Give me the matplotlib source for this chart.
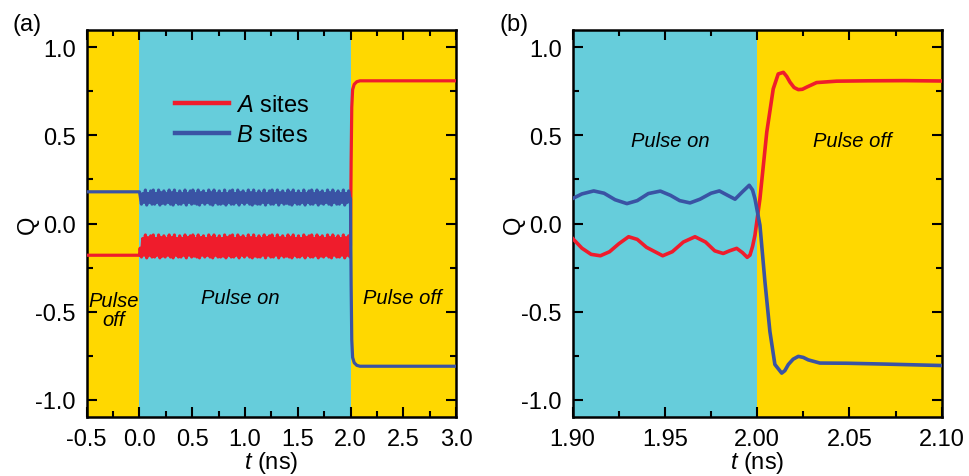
import numpy as np
import matplotlib
matplotlib.use("Agg")
import matplotlib.pyplot as plt
from matplotlib.ticker import MultipleLocator, FormatStrFormatter

plt.rcParams['font.family'] = ['Liberation Sans', 'DejaVu Sans']
plt.rcParams['mathtext.fontset'] = 'custom'
plt.rcParams['mathtext.rm'] = 'Liberation Sans'
plt.rcParams['mathtext.it'] = 'Liberation Sans:italic'

YELLOW = '#FFD800'
CYAN = '#66CDDB'
RED = '#EF1C2C'
BLUE = '#3A53A4'

# panel (a): before the pulse
t_pre = [-0.5, 0.0]
a_pre = [-0.18, -0.18]
b_pre = [0.18, 0.18]

# panel (a): pulse on, extrema of the fast oscillation (0 - 2 ns)
a_on = [-0.14, -0.19, -0.085, -0.18, -0.065, -0.195, -0.08, -0.18, -0.07, -0.19,
        -0.065, -0.19, -0.085, -0.18, -0.065, -0.195, -0.08, -0.185, -0.07, -0.19,
        -0.085, -0.18, -0.065, -0.19, -0.08, -0.195, -0.065, -0.18, -0.085, -0.19,
        -0.07, -0.19, -0.085, -0.18, -0.065, -0.195, -0.08, -0.18, -0.07, -0.19,
        -0.065, -0.185, -0.085, -0.19, -0.065, -0.195, -0.08, -0.18, -0.07, -0.19,
        -0.085, -0.18, -0.065, -0.19, -0.08, -0.195, -0.065, -0.18, -0.085, -0.19,
        -0.07, -0.19, -0.085, -0.185, -0.065, -0.195, -0.08, -0.18, -0.07, -0.19,
        -0.065, -0.19, -0.085, -0.18, -0.065, -0.195, -0.08, -0.18, -0.07, -0.19,
        -0.085, -0.18, -0.065, -0.19, -0.08, -0.195, -0.065, -0.185, -0.085, -0.19,
        -0.07, -0.19, -0.085, -0.18, -0.065, -0.195, -0.08, -0.18, -0.07, -0.19,
        -0.065, -0.19, -0.085, -0.18, -0.065, -0.195, -0.08, -0.18, -0.07, -0.19,
        -0.085, -0.185, -0.065, -0.19, -0.08, -0.195, -0.065, -0.18, -0.085, -0.19,
        -0.07, -0.19, -0.085, -0.18, -0.065, -0.195, -0.08, -0.18, -0.07, -0.19,
        -0.065, -0.19, -0.085, -0.18, -0.065, -0.195, -0.08, -0.185, -0.07, -0.19,
        -0.085, -0.18, -0.065, -0.19, -0.08, -0.195, -0.065, -0.18, -0.085, -0.19,
        -0.07, -0.19, -0.085, -0.18, -0.065, -0.195, -0.08, -0.18, -0.07, -0.19]
b_on = [0.16, 0.11, 0.17, 0.12, 0.19, 0.105, 0.17, 0.12, 0.185, 0.11,
        0.19, 0.11, 0.17, 0.12, 0.19, 0.105, 0.175, 0.115, 0.185, 0.11,
        0.17, 0.12, 0.19, 0.11, 0.175, 0.105, 0.19, 0.12, 0.17, 0.11,
        0.185, 0.11, 0.17, 0.12, 0.19, 0.105, 0.17, 0.12, 0.185, 0.11,
        0.19, 0.115, 0.17, 0.11, 0.19, 0.105, 0.175, 0.12, 0.185, 0.11,
        0.17, 0.12, 0.19, 0.11, 0.175, 0.105, 0.19, 0.12, 0.17, 0.11,
        0.185, 0.11, 0.17, 0.115, 0.19, 0.105, 0.17, 0.12, 0.185, 0.11,
        0.19, 0.11, 0.17, 0.12, 0.19, 0.105, 0.175, 0.12, 0.185, 0.11,
        0.17, 0.12, 0.19, 0.11, 0.175, 0.105, 0.19, 0.115, 0.17, 0.11,
        0.185, 0.11, 0.17, 0.12, 0.19, 0.105, 0.17, 0.12, 0.185, 0.11,
        0.19, 0.11, 0.17, 0.12, 0.19, 0.105, 0.175, 0.12, 0.185, 0.11,
        0.17, 0.115, 0.19, 0.11, 0.175, 0.105, 0.19, 0.12, 0.17, 0.11,
        0.185, 0.11, 0.17, 0.12, 0.19, 0.105, 0.17, 0.12, 0.185, 0.11,
        0.19, 0.11, 0.17, 0.12, 0.19, 0.105, 0.175, 0.115, 0.185, 0.11,
        0.17, 0.12, 0.19, 0.11, 0.175, 0.105, 0.19, 0.12, 0.17, 0.11,
        0.185, 0.11, 0.17, 0.12, 0.19, 0.105, 0.17, 0.12, 0.185, 0.14]
t_on = np.linspace(0.006, 1.995, len(a_on))

# panel (a): after the pulse, as it looks on the 3.5 ns scale
t_post = [2.0, 2.006, 2.012, 2.02, 2.035, 2.06, 2.09, 3.0]
a_post = [-0.12, 0.35, 0.66, 0.76, 0.79, 0.805, 0.81, 0.81]
b_post = [0.14, -0.35, -0.66, -0.76, -0.79, -0.805, -0.81, -0.81]

# panel (b): zoom around the end of the pulse
t_a_b = [1.900, 1.905, 1.910, 1.915, 1.920, 1.925, 1.9303, 1.935, 1.940, 1.9488,
         1.954, 1.960, 1.9663, 1.972, 1.977, 1.9816, 1.985, 1.9889, 1.992, 1.9946,
         1.9961, 1.9975, 1.9988, 2.0015, 2.0052, 2.0087, 2.0114, 2.0142, 2.0160, 2.0178,
         2.020, 2.0223, 2.0245, 2.0268, 2.0322, 2.0431, 2.060, 2.080, 2.100]
a_b = [-0.085, -0.14, -0.175, -0.183, -0.16, -0.115, -0.075, -0.09, -0.135, -0.183,
       -0.16, -0.105, -0.075, -0.105, -0.155, -0.17, -0.155, -0.141, -0.165, -0.192,
       -0.179, -0.13, -0.066, 0.141, 0.519, 0.764, 0.849, 0.858, 0.835, 0.802,
       0.772, 0.76, 0.762, 0.774, 0.800, 0.808, 0.810, 0.811, 0.809]
t_b_b = [1.900, 1.905, 1.9114, 1.917, 1.923, 1.9294, 1.935, 1.941, 1.9475, 1.953,
         1.958, 1.9636, 1.969, 1.975, 1.9795, 1.984, 1.988, 1.992, 1.9957, 1.9975,
         1.9988, 2.0015, 2.0042, 2.0069, 2.0096, 2.0133, 2.0150, 2.0169, 2.0195, 2.0223,
         2.025, 2.0277, 2.034, 2.0485, 2.070, 2.100]
b_b = [0.142, 0.168, 0.185, 0.172, 0.135, 0.113, 0.13, 0.17, 0.184, 0.16,
       0.13, 0.117, 0.138, 0.172, 0.185, 0.16, 0.138, 0.18, 0.217, 0.19,
       0.141, -0.01, -0.33, -0.613, -0.80, -0.849, -0.835, -0.80, -0.77, -0.754,
       -0.76, -0.774, -0.792, -0.793, -0.798, -0.806]

ta = np.concatenate([t_pre, t_on, t_post])
qa = np.concatenate([a_pre, a_on, a_post])
qb = np.concatenate([b_pre, b_on, b_post])

fig = plt.figure(figsize=(9.69, 4.77), dpi=100)
ax1 = fig.add_axes([0.0895, 0.123, 0.3811, 0.8126])
ax2 = fig.add_axes([0.591, 0.123, 0.3808, 0.8126])

FS = 17
for ax in (ax1, ax2):
    ax.set_ylim(-1.1, 1.1)
    ax.yaxis.set_major_locator(MultipleLocator(0.5))
    ax.yaxis.set_minor_locator(MultipleLocator(0.25))
    ax.yaxis.set_major_formatter(FormatStrFormatter('%.1f'))
    ax.tick_params(which='both', direction='in', top=True, right=True,
                   labelsize=FS, width=1.5)
    ax.tick_params(which='major', length=7.5, pad=8)
    ax.tick_params(which='minor', length=4.5)
    for s in ax.spines.values():
        s.set_linewidth(1.8)
    ax.set_ylabel('Q', fontsize=FS, labelpad=-3)
    ax.set_xlabel('$t$ (ns)', fontsize=FS, labelpad=-1)

# (a)
ax1.set_xlim(-0.5, 3.0)
ax1.xaxis.set_major_locator(MultipleLocator(0.5))
ax1.xaxis.set_minor_locator(MultipleLocator(0.25))
ax1.xaxis.set_major_formatter(FormatStrFormatter('%.1f'))
ax1.axvspan(-0.5, 0.0, color=YELLOW, lw=0, zorder=0)
ax1.axvspan(0.0, 2.0, color=CYAN, lw=0, zorder=0)
ax1.axvspan(2.0, 3.0, color=YELLOW, lw=0, zorder=0)
ax1.plot(ta, qa, color=RED, lw=2.3, label='$A$ sites', zorder=3)
ax1.plot(ta, qb, color=BLUE, lw=2.3, label='$B$ sites', zorder=3)
leg = ax1.legend(loc='center left', bbox_to_anchor=(0.207, 0.767), frameon=False,
                 fontsize=FS, handlelength=2.3, handletextpad=0.3,
                 labelspacing=0.32, borderpad=0)
for h in leg.legend_handles:
    h.set_linewidth(3.2)
ax1.text(-0.243, -0.49, 'Pulse\noff', style='italic', fontsize=14.5,
         ha='center', va='center', linespacing=1.0)
ax1.text(0.96, -0.42, 'Pulse on', style='italic', fontsize=14.5,
         ha='center', va='center')
ax1.text(2.49, -0.42, 'Pulse off', style='italic', fontsize=14.5,
         ha='center', va='center')

# (b)
ax2.set_xlim(1.90, 2.10)
ax2.xaxis.set_major_locator(MultipleLocator(0.05))
ax2.xaxis.set_minor_locator(MultipleLocator(0.025))
ax2.xaxis.set_major_formatter(FormatStrFormatter('%.2f'))
ax2.axvspan(1.90, 2.0, color=CYAN, lw=0, zorder=0)
ax2.axvspan(2.0, 2.10, color=YELLOW, lw=0, zorder=0)
ax2.plot(t_a_b, a_b, color=RED, lw=2.6, zorder=3, solid_joinstyle='round')
ax2.plot(t_b_b, b_b, color=BLUE, lw=2.6, zorder=3, solid_joinstyle='round')
ax2.text(1.9529, 0.47, 'Pulse on', style='italic', fontsize=14.5,
         ha='center', va='center')
ax2.text(2.0515, 0.47, 'Pulse off', style='italic', fontsize=14.5,
         ha='center', va='center')

fig.text(27 / 969, 1 - 25 / 477, '(a)', fontsize=17, ha='center', va='center')
fig.text(514 / 969, 1 - 25 / 477, '(b)', fontsize=17, ha='center', va='center')

fig.savefig('out.png', dpi=100)
